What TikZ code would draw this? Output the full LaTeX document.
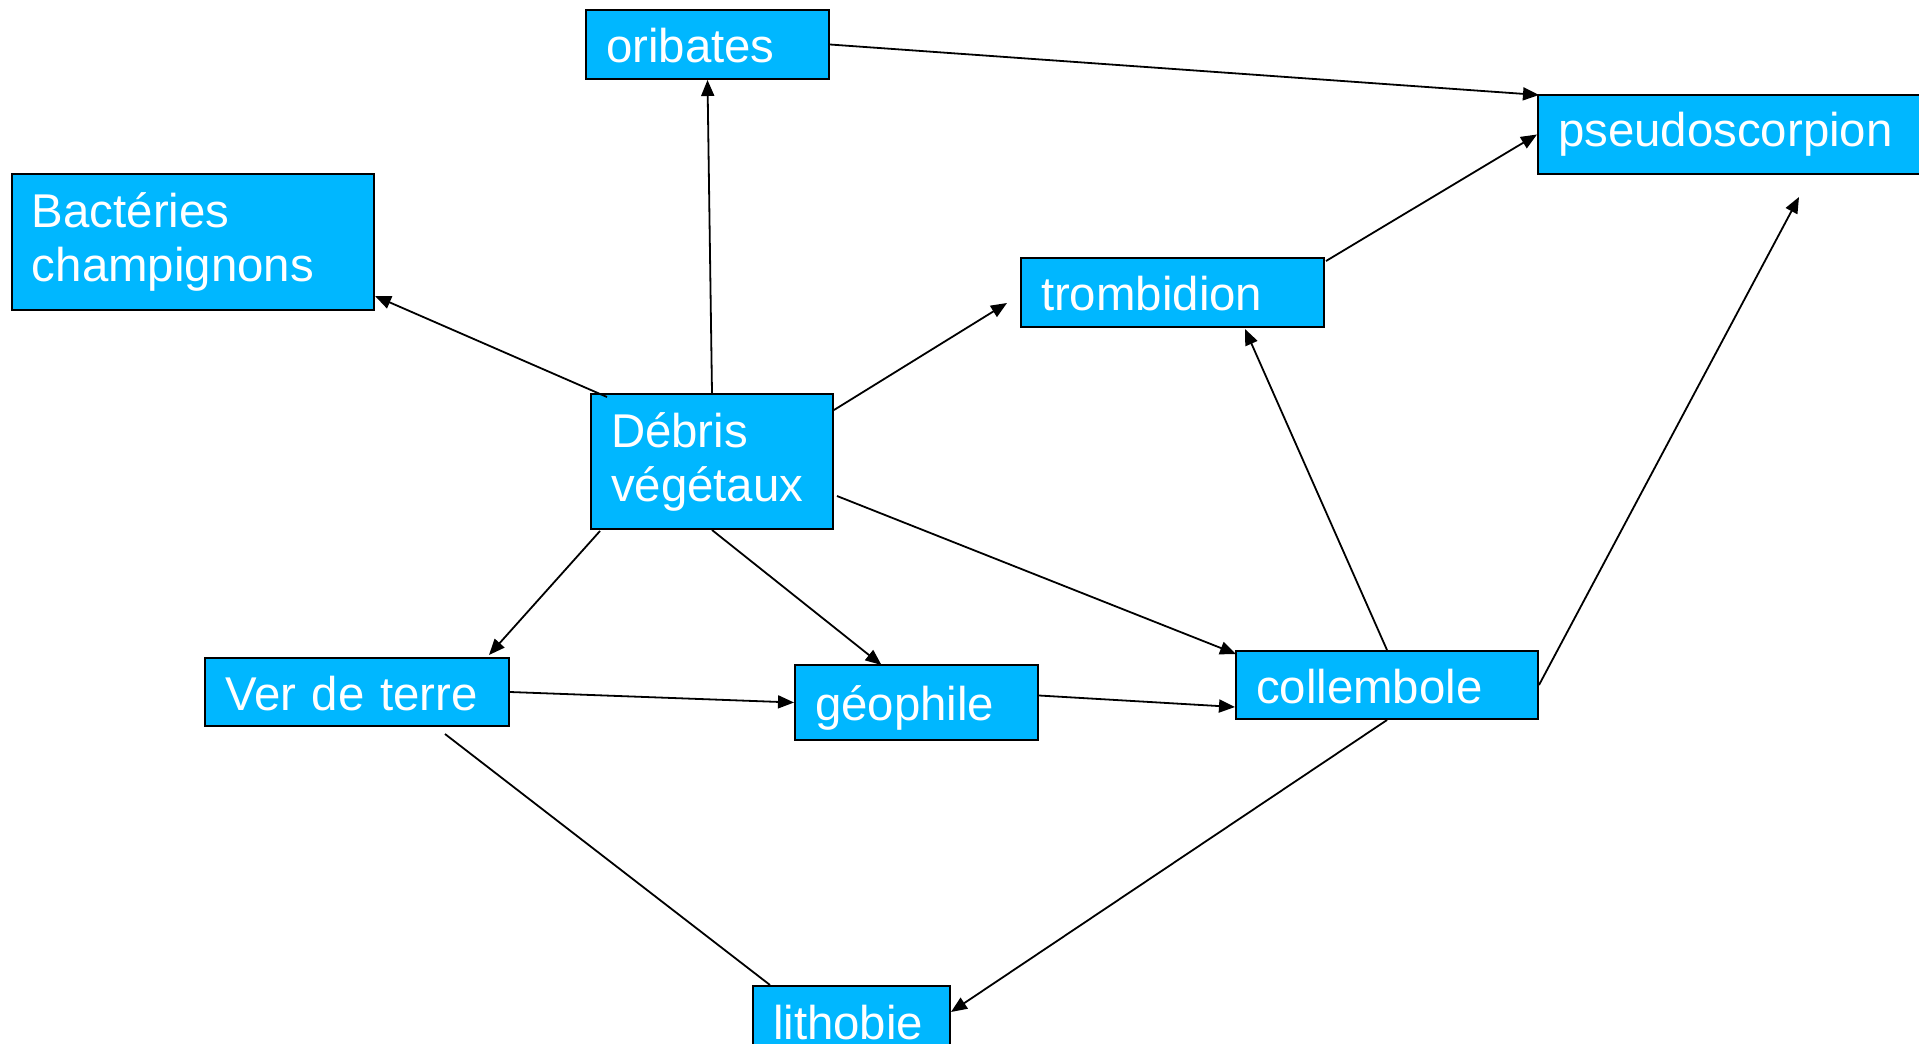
\documentclass[tikz,border=0pt]{standalone}
\usepackage{fontspec}
\setmainfont{Liberation Sans}
\usetikzlibrary{arrows.meta}
\definecolor{ciel}{RGB}{0,183,255}

\begin{document}
\begin{tikzpicture}[x=0.5pt,y=-0.5pt,
    boite/.style={draw=black, line width=1pt, fill=ciel, text=white, anchor=north west,
      font=\fontsize{23.7pt}{27pt}\selectfont, inner xsep=10pt, inner ysep=0pt, align=left},
    ligne/.style={text height=22pt, text depth=4pt},
    fleche/.style={line width=0.9pt, -{Triangle[length=8pt,width=6.5pt]}}]
        \useasboundingbox (0,0) rectangle (1919,1044);
        % les boites
        \node[boite, ligne, minimum width=121.5pt, minimum height=34.5pt, text width=101.5pt] (oribates) at (585,9) {oribates};
        \node[boite, text height=17pt, text depth=5.5pt, minimum width=200pt, minimum height=39.5pt, text width=180pt] (pseudo) at (1537,94) {pseudoscorpion};
        \node[boite, minimum width=181pt, minimum height=68pt, text width=161pt] (bact) at (11,173) {Bactéries\\champignons};
        \node[boite, ligne, minimum width=151.5pt, minimum height=34.5pt, text width=131.5pt] (trombidion) at (1020,257) {trombidion};
        \node[boite, minimum width=121pt, minimum height=67.5pt, text width=101pt] (debris) at (590,393) {Débris\\végétaux};
        \node[boite, ligne, minimum width=152pt, minimum height=34pt, text width=132pt] (ver) at (204,657) {Ver de terre};
        \node[boite, ligne, minimum width=121.5pt, minimum height=37.5pt, text width=101.5pt] (geophile) at (794,664) {géophile};
        \node[boite, ligne, minimum width=151pt, minimum height=34pt, text width=131pt] (collembole) at (1235,650) {collembole};
        \node[boite, ligne, minimum width=98.5pt, minimum height=35pt, text width=78.5pt] (lithobie) at (752,985) {lithobie};
        % les fleches
        \draw[fleche] ([shift={(17,4)}]debris.north west) -- ([shift={(0,-15)}]bact.south east);
        \draw[fleche] (debris.north) -- (oribates.south);
        \draw[fleche] ([shift={(0,17)}]debris.north east) -- ([shift={(-13,-25)}]trombidion.south west);
        \draw[fleche] ([shift={(3,-34)}]debris.south east) -- ([shift={(1,4)}]collembole.north west);
        \draw[fleche] ([shift={(10,1)}]debris.south west) -- ([shift={(-21,-2)}]ver.north east);
        \draw[fleche] (debris.south) -- ([shift={(-35,1)}]geophile.north);
        \draw[fleche] (ver.east) -- (geophile.west);
        \draw[fleche] ([shift={(0,-7)}]geophile.east) -- ([shift={(0,-13)}]collembole.south west);
        \draw[fleche] (collembole.north) -- ([shift={(-80,1)}]trombidion.south east);
        \draw[fleche] (collembole.east) -- ([shift={(262,22)}]pseudo.south west);
        \draw[fleche] ([shift={(1,4)}]trombidion.north east) -- (pseudo.west);
        \draw[fleche] (oribates.east) -- ([shift={(2,1)}]pseudo.north west);
        \draw[fleche] (collembole.south) -- ([shift={(0,27)}]lithobie.north east);
        \draw[line width=0.9pt] ([shift={(241,7)}]ver.south west) -- ([shift={(18,0)}]lithobie.north west);
\end{tikzpicture}
\end{document}
